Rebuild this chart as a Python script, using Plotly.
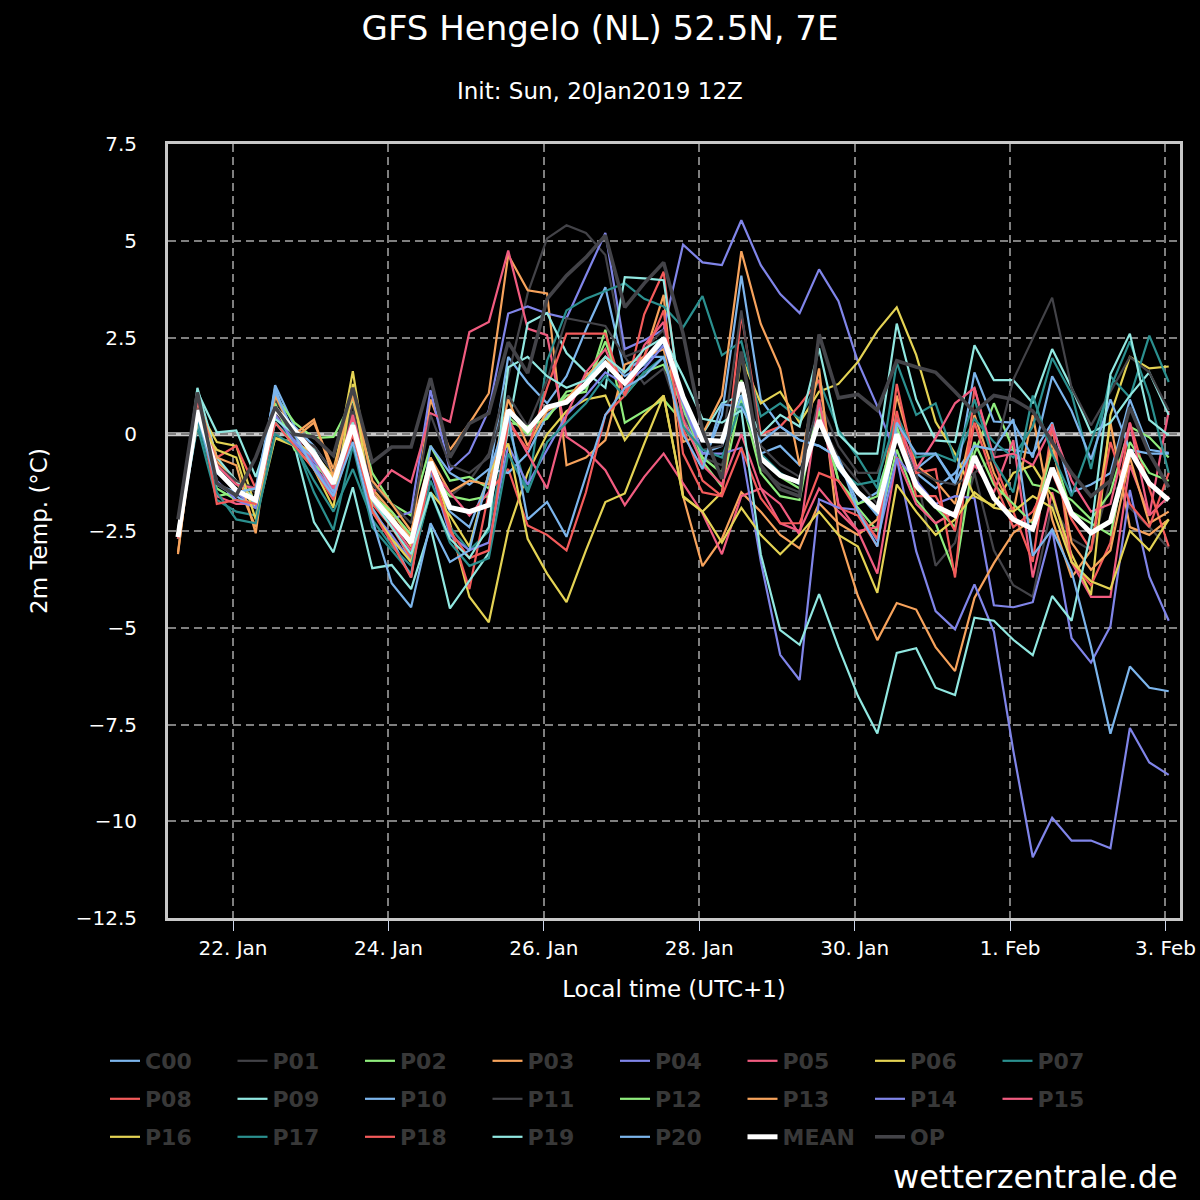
import pandas as pd
import plotly.graph_objects as go

# ---- data -----------------------------------------------------------------
times = pd.date_range("2019-01-21 07:00", periods=52, freq="6h")

C00 = [-2.6, 0.6, -1.3, -1.6, -1.9, 1.27, 0.2, -0.3, -1.0, 0.9, -1.6, -2.3, -3.3,
       -1.0, -2.0, -2.4, -1.1, 2.0, 1.33, 0.8, 1.5, 2.7, 3.8, 1.6, 2.0, 2.0,
       0.6, -0.8, 0.5, 4.1, 0.9, 0.2, -0.15, -0.3, -0.6, -1.8, -1.5, 0.1, -1.0,
       -1.4, -1.0, -0.3, -0.4, -0.4, -0.5, 0.3, -1.5, -1.3, -1.0, 0.9, -0.4, -0.48]
P01 = [-2.6, 0.9, -1.0, -1.3, -1.5, 0.9, 0.1, -0.4, -1.2, 0.8, -1.4, -2.0, -2.6,
       -1.0, -1.6, -1.2, -0.5, 1.5, 3.64, 5.06, 5.4, 5.2, 4.63, 2.0, 1.3, 1.7,
       0.2, -0.6, -0.8, 1.0, -0.9, -1.3, -1.5, 0.4, -0.6, -1.2, -1.8, 0.2, -1.0,
       -3.4, -2.8, -1.0, -3.0, -3.9, -4.2, -1.8, -2.7, -3.0, -1.2, -1.9, -2.4, -2.95]
P02 = [-2.6, 0.8, -1.6, -1.5, -1.4, 1.0, 0.3, -0.1, -0.07, 0.9, -1.0, -1.8, -2.1,
       -0.3, -1.2, -1.1, -1.4, 0.45, 0.0, 0.45, 1.0, 1.1, 2.7, 0.3, 0.6, 0.9,
       0.3, -0.7, -1.35, 0.95, -1.0, -1.6, -1.7, 0.9, -1.2, -1.9, -2.5, -0.4, -1.7,
       -2.3, -3.6, -0.5, 0.8, -0.4, -1.3, -1.4, -1.7, -2.2, -1.5, 0.2, -0.08, -0.6]
P03 = [-3.05, 0.8, -0.7, -1.2, -2.4, 1.1, -0.1, 0.3, -0.9, 1.0, -1.4, -2.0, -2.7,
       0.9, -0.4, 0.28, 1.06, 4.63, 3.72, 3.64, -0.8, -0.6, -0.15, 1.8, 2.0, 3.6,
       -1.6, -3.41, -2.7, -1.5, -2.0, -2.6, -2.95, -1.78, -2.3, -2.6, -2.2, 1.0, -0.8,
       -1.2, -1.8, 0.5, -1.0, -2.0, 0.5, -2.2, -3.7, -3.0, 0.3, -2.4, -2.6, -2.2]
P04 = [-2.6, 1.0, -0.9, -1.5, -1.9, 0.6, -0.1, -0.7, -1.3, 0.3, -1.8, -2.2, -2.0,
       1.14, -0.93, -0.47, 0.62, 3.12, 3.3, 3.12, 3.0, 4.1, 5.2, 2.2, 2.43, 2.7,
       4.9, 4.44, 4.37, 5.53, 4.37, 3.62, 3.13, 4.26, 3.44, 1.87, 0.72, -0.6, -1.2,
       -1.8, -1.6, -1.65, -4.42, -4.47, -4.34, -2.45, -5.27, -5.9, -4.96, -1.44, -3.68, -4.82]
P05 = [-2.7, 0.9, -1.6, -1.8, -1.8, 0.5, 0.0, -0.8, -1.5, 0.4, -1.53, -0.93, -1.24,
       0.54, 0.32, 2.64, 2.9, 4.75, 2.73, 2.56, -0.07, -0.41, -0.93, -1.83, -1.1, -0.5,
       -1.27, -2.04, -3.1, -1.6, -1.4, -2.3, -2.5, -1.4, -2.0, -2.5, -3.6, -0.6, -1.8,
       -2.3, -2.0, -0.8, -1.5, -0.15, -3.7, -1.5, -3.3, -4.2, -4.2, -0.8, -2.1, 0.6]
P06 = [-2.6, 0.7, -0.2, -0.3, -1.9, -0.1, -0.2, -0.5, -1.1, 1.63, -1.5, -2.1, -2.9,
       -0.6, -2.3, -4.2, -4.86, -2.48, -1.0, 0.0, 0.6, 0.9, 1.0, -0.15, 0.5, 1.0,
       -1.6, -2.0, -1.5, 2.0, 0.8, 1.1, 0.3, 1.1, 1.3, 1.87, 2.67, 3.28, 2.05,
       0.32, -0.5, -1.6, -1.85, -1.0, -0.8, -1.6, -3.1, -4.15, 0.5, 2.0, 1.7, 1.75]
P07 = [-2.6, 0.2, -1.7, -2.0, -2.1, 0.3, -0.2, -1.5, -2.48, -0.3, -2.4, -3.0, -3.6,
       -1.2, -2.4, -3.0, -2.5, 0.2, -1.5, 1.9, 3.2, 3.5, 3.7, 3.9, 3.5, 3.3,
       2.76, 3.57, 2.04, 2.4, 0.46, 0.8, 0.4, 1.4, 0.1, -0.6, -1.4, 1.85, 0.5,
       0.8, -0.67, 0.4, -0.2, -0.6, 0.2, 1.97, 1.05, -0.9, 1.5, 0.95, 2.55, 1.35]
P08 = [-2.6, 1.1, -0.6, -0.3, -1.4, 0.6, 0.1, -0.4, -1.4, 0.5, -1.8, -2.4, -3.2,
       -0.9, -2.4, -4.0, -1.5, -0.9, -2.36, -2.6, -3.0, -1.5, 0.5, 1.0, 3.1, 4.2,
       0.15, -1.2, -1.6, 3.1, 0.0, 0.2, 0.75, 1.4, -1.9, -2.1, -2.9, 1.3, -1.0,
       -0.9, -3.7, 1.2, -0.7, -2.0, -3.3, 0.26, -3.3, -3.9, -2.8, 0.3, -1.4, -2.9]
P09 = [-2.6, 1.2, -0.6, -1.2, -1.7, 0.3, -0.3, -2.27, -3.05, -1.37, -3.46, -3.38, -4.0,
       -2.4, -4.5, -3.77, -3.07, 0.18, 2.87, 3.13, 2.1, 1.6, 1.2, 4.06, 4.03, 3.98,
       0.5, 0.0, 0.8, 1.0, 0.0, 0.5, 0.2, 2.22, 0.0, -0.5, -0.5, 2.86, 0.9,
       -0.16, -0.2, 2.3, 1.4, 1.4, 0.8, 2.2, 1.2, 0.04, 0.3, 1.0, 1.6, 0.5]
P10 = [-2.7, 0.3, -1.0, -1.4, -1.8, 1.2, -0.2, -0.6, -1.5, 0.1, -1.9, -2.7, -3.7,
       -0.3, -1.0, -1.3, -0.9, -1.0, -0.5, 0.5, 0.9, 1.2, 2.0, 1.5, 1.8, 2.4,
       1.0, -0.5, -0.3, 1.0, -0.5, -0.3, -0.8, 0.7, -0.9, -1.5, -2.1, 0.2, -0.9,
       -0.5, -1.3, 1.6, 0.33, 0.3, -0.6, 1.5, 0.6, -0.65, 0.9, -0.4, -0.5, -0.5]
P11 = [-2.7, 0.7, -0.8, -1.2, -1.4, 0.6, -0.1, -0.3, -1.0, 0.6, -1.3, -1.8, -2.3,
       0.5, -0.8, -1.0, -0.6, 1.0, 0.2, 1.4, 3.0, 2.9, 2.8, 2.0, 2.2, 2.7,
       0.5, -0.4, -0.3, 3.2, -0.3, -0.8, -1.1, 0.9, -0.3, -1.0, -1.0, 0.3, -0.9,
       -1.2, -1.3, -1.0, -0.6, 1.41, 2.45, 3.53, 1.2, 0.23, 1.1, 2.0, 1.6, 0.62]
P12 = [-2.7, 0.6, -1.4, -1.7, -1.8, 0.8, -0.4, -0.8, -1.2, 0.3, -1.6, -2.0, -2.6,
       -1.0, -1.6, -1.7, -1.6, 0.3, 0.2, 0.4, 1.1, 1.2, 2.4, 1.0, 1.6, 1.8,
       0.7, -0.6, -1.0, 1.4, -0.6, -1.1, -1.4, 0.6, -1.2, -1.8, -1.6, 0.2, -1.4,
       -1.9, -2.4, -0.2, -1.3, -1.8, -2.3, -0.4, -2.0, -2.3, -2.6, -0.2, -1.0, -1.2]
P13 = [-3.1, 0.9, -0.6, -0.8, -2.56, 1.0, 0.0, 0.38, -1.1, 1.2, -1.2, -1.8, -2.5,
       -0.6, -1.5, -1.2, -1.3, 0.9, -0.3, 0.6, 0.9, 1.5, 2.0, 1.3, 2.0, 2.2,
       -0.2, 0.0, 1.0, 4.73, 2.85, 1.7, -0.8, 1.7, -2.58, -4.18, -5.32, -4.36, -4.53,
       -5.5, -6.12, -4.23, -3.33, -2.55, -2.2, -0.2, -2.8, -3.5, -3.0, -0.6, -2.3, -2.0]
P14 = [-2.7, 1.0, -1.2, -1.7, -1.9, 0.5, -0.2, -0.8, -1.6, 0.1, -2.0, -2.6, -3.3,
       -0.9, -2.6, -3.0, -2.8, -0.3, -1.3, -0.4, 0.5, 1.0, 1.6, 1.3, 1.7, 2.3,
       0.8, -0.5, -0.5, -0.35, -3.28, -5.7, -6.35, -1.68, -1.9, -1.95, -2.75, -0.62, -3.02,
       -4.57, -5.04, -3.88, -5.1, -8.18, -10.93, -9.91, -10.5, -10.5, -10.7, -7.59, -8.48, -8.8]
P15 = [-2.6, 0.9, -0.8, -1.3, -1.4, 0.7, 0.1, -0.6, -1.4, 0.5, -1.5, -2.3, -3.0,
       -0.9, -1.5, -2.1, -1.5, 0.4, -0.5, -1.4, 0.5, 1.6, 2.2, 1.0, 2.3, 2.9,
       0.4, -0.8, -1.3, 0.0, -1.4, -1.8, -2.6, 0.9, -1.8, -2.5, -2.4, 0.4, -0.9,
       -0.1, 0.8, 1.2, -0.6, -0.5, -0.8, 0.2, -1.2, -2.0, -1.8, 0.3, -2.1, -1.6]
P16 = [-2.5, 0.3, -0.4, -0.6, -2.2, -0.1, -0.3, -0.9, -1.9, 1.3, -2.0, -2.7, -3.3,
       -1.5, -2.1, -2.9, -1.0, -0.24, -2.7, -3.6, -4.34, -3.0, -1.75, -1.53, -0.24, 1.0,
       -1.62, -2.0, -2.8, -1.9, -2.6, -3.1, -2.6, -2.0, -2.6, -2.9, -4.1, -1.3, -2.0,
       -2.6, -2.2, -1.5, -1.9, -2.0, -1.6, -1.9, -3.3, -3.8, -4.0, -2.5, -3.0, -2.2]
P17 = [-2.7, 0.4, -1.5, -2.2, -2.3, 0.0, -0.3, -1.2, -2.0, -0.9, -2.2, -2.9, -3.4,
       -1.5, -2.8, -3.4, -3.2, -0.5, -1.5, -0.2, 0.3, 0.8, 1.5, 1.0, 1.6, 2.0,
       0.2, -0.4, -0.6, 0.8, -0.5, -1.0, -1.3, 0.3, -0.9, -1.3, -1.2, 0.5, -0.6,
       -0.5, -0.7, 0.9, -0.7, -1.5, 1.0, -0.5, -1.6, -0.2, 1.2, 2.4, 1.0, -1.0]
P18 = [-2.7, 1.0, -1.8, -1.7, -1.8, 0.3, -0.3, -0.9, -1.7, 0.0, -2.0, -2.8, -3.7,
       -0.8, -2.5, -3.2, -3.0, 0.3, -0.4, 1.2, 2.6, 2.6, 2.6, 1.0, 2.0, 3.2,
       -0.5, -1.5, -1.6, -0.35, -1.65, -2.3, -2.3, -1.0, -1.2, -2.0, -2.7, 0.6, -1.6,
       -1.6, -2.5, 0.3, -1.2, -2.4, -2.0, -1.0, -2.2, -3.0, -0.2, -1.8, -2.4, -1.0]
P19 = [-2.5, 1.1, 0.05, 0.1, -1.1, 0.4, 0.0, -0.4, -1.3, 0.3, -1.7, -2.4, -3.1,
       -1.5, -2.7, -3.2, -2.4, 1.73, 2.0, 1.5, 1.2, 1.4, 2.0, 1.6, 2.2, 2.5,
       1.5, 0.4, 0.3, 0.62, -3.1, -5.06, -5.44, -4.13, -5.5, -6.76, -7.73, -5.65, -5.53,
       -6.55, -6.74, -4.74, -4.82, -5.31, -5.71, -4.18, -4.82, -2.5, 1.55, 2.6, 0.37, -0.03]
P20 = [-2.6, 0.5, -1.3, -1.5, -1.4, 1.1, 0.0, -0.9, -1.6, -0.2, -2.2, -3.85, -4.47,
       -2.3, -3.3, -3.0, -1.0, 0.5, -2.2, -1.75, -2.65, -1.1, 0.5, 1.2, 1.5, 2.0,
       0.0, -0.9, 0.78, 0.7, -0.2, 0.2, -0.15, -0.3, -0.6, -2.0, -2.9, 0.3, -0.5,
       -0.5, -1.25, -0.3, -0.4, 0.39, -3.14, -2.46, -3.54, -5.5, -7.74, -6.0, -6.55, -6.64]
MEAN = [-2.66, 0.62, -0.93, -1.45, -1.7, 0.67, 0.1, -0.5, -1.27, 0.23, -1.62, -2.2, -2.8,
        -0.72, -1.89, -2.0, -1.83, 0.62, 0.1, 0.7, 0.83, 1.3, 1.83, 1.32, 1.9, 2.48,
        0.96, -0.15, -0.18, 1.34, -0.62, -1.06, -1.24, 0.36, -0.8, -1.5, -1.96, 0.0, -1.32,
        -1.86, -2.1, -0.57, -1.65, -2.2, -2.45, -0.87, -2.05, -2.55, -2.25, -0.41, -1.27, -1.7]
OP = [-2.2, 1.08, -1.27, -1.58, -0.6, 0.7, 0.0, -0.07, -0.55, 1.2, -0.72, -0.33, -0.33,
      1.45, -0.6, 0.28, 0.54, 2.38, 1.58, 3.5, 4.1, 4.57, 5.14, 3.28, 3.9, 4.44,
      2.6, 0.1, -1.15, 2.14, -0.8, -1.42, -1.6, 2.58, 0.94, 1.03, 0.62, 1.9, 1.74,
      1.6, 1.1, 0.57, 1.0, 0.9, 0.6, -0.2, -1.0, -1.6, -1.2, 0.7, -0.5, -1.37]

names = ["C00", "P01", "P02", "P03", "P04", "P05", "P06", "P07", "P08", "P09", "P10",
         "P11", "P12", "P13", "P14", "P15", "P16", "P17", "P18", "P19", "P20", "MEAN", "OP"]
series = [C00, P01, P02, P03, P04, P05, P06, P07, P08, P09, P10,
          P11, P12, P13, P14, P15, P16, P17, P18, P19, P20, MEAN, OP]

palette = ["#7cb5ec", "#434348", "#90ed7d", "#f7a35c", "#8085e9",
           "#f15c80", "#e4d354", "#2b908f", "#f45b5b", "#91e8e1"]
colors = [palette[i % 10] for i in range(21)] + ["#ffffff", "#434348"]
widths = [2.2] * 21 + [5, 3.6]

y_ticks = [7.5, 5, 2.5, 0, -2.5, -5, -7.5, -10, -12.5]
y_ticktext = ["7.5", "5", "2.5", "0", "−2.5", "−5", "−7.5", "−10", "−12.5"]
x_ticks = ["2019-01-22", "2019-01-24", "2019-01-26", "2019-01-28",
           "2019-01-30", "2019-02-01", "2019-02-03"]
x_ticktext = ["22. Jan", "24. Jan", "26. Jan", "28. Jan", "30. Jan", "1. Feb", "3. Feb"]

# ---- figure ---------------------------------------------------------------
FONT = "DejaVu Sans"
fig = go.Figure()
legend_ids = ["legend"] * 8 + ["legend2"] * 8 + ["legend3"] * 7
for i, (nm, vals) in enumerate(zip(names, series)):
    fig.add_trace(go.Scatter(
        x=times, y=vals, name=nm, mode="lines",
        line=dict(color=colors[i], width=widths[i]),
        legend=legend_ids[i], hoverinfo="x+y+name",
    ))

grid_dash = "8px,5px"
PW = 1180 - 168
LX = (105 - 168) / PW


def leg(y):
    return dict(orientation="h", x=LX, xanchor="left", y=y, yanchor="middle",
                entrywidth=82.5, entrywidthmode="pixels", bgcolor="rgba(0,0,0,0)",
                font=dict(family=FONT, size=22, color="#383838", weight="bold"),
                itemwidth=30, tracegroupgap=0)


def py(px):  # pixel row -> paper y
    return (918 - px) / 774


fig.update_layout(
    width=1200, height=1200, autosize=False,
    margin=dict(l=168, r=20, t=144, b=282, pad=0, autoexpand=False),
    paper_bgcolor="#000000", plot_bgcolor="#000000",
    font=dict(family=FONT, color="#ffffff"),
    title=dict(text="GFS Hengelo (NL) 52.5N, 7E", x=0.5, xref="container", xanchor="center",
               y=1 - 28 / 1200, yref="container", yanchor="middle",
               font=dict(family=FONT, size=34, color="#ffffff")),
    legend=leg(py(1061)), legend2=leg(py(1099)), legend3=leg(py(1137)),
    showlegend=True,
    xaxis=dict(type="date", range=["2019-01-21 03:55", "2019-02-03 04:29"],
               tickvals=x_ticks, ticktext=x_ticktext, automargin=False,
               tickfont=dict(family=FONT, size=20, color="#ffffff"),
               ticks="outside", ticklen=10, tickwidth=1, tickcolor="#ccd6eb",
               showgrid=True, gridcolor="#7f7f7f", gridwidth=1.5, griddash=grid_dash,
               showline=True, mirror=True, linecolor="#c8c8c8", linewidth=3,
               zeroline=False,
               title=dict(text="Local time (UTC+1)", standoff=22,
                          font=dict(family=FONT, size=23, color="#ffffff"))),
    yaxis=dict(range=[-12.5, 7.5], tickvals=y_ticks, ticktext=y_ticktext, automargin=False,
               tickfont=dict(family=FONT, size=20, color="#ffffff"),
               ticks="outside", ticklen=24, tickcolor="rgba(0,0,0,0)",
               showgrid=True, gridcolor="#7f7f7f", gridwidth=1.5, griddash=grid_dash,
               showline=True, mirror=True, linecolor="#c8c8c8", linewidth=3,
               zeroline=False,
               title=dict(text="2m Temp. (°C)", standoff=22,
                          font=dict(family=FONT, size=23, color="#ffffff"))),
    shapes=[dict(type="line", xref="paper", yref="y", x0=0, x1=1, y0=0, y1=0,
                 line=dict(color="#c8c8c8", width=4), layer="below")],
    annotations=[
        dict(text="Init: Sun, 20Jan2019 12Z", xref="paper", yref="paper",
             x=(600 - 168) / PW, y=py(91), xanchor="center", yanchor="middle",
             showarrow=False, font=dict(family=FONT, size=23, color="#ffffff")),
        dict(text="wetterzentrale.de", xref="paper", yref="paper",
             x=(1180 - 168) / PW, y=py(1177), xanchor="right", yanchor="middle",
             showarrow=False, font=dict(family=FONT, size=32, color="#ffffff")),
    ],
)

fig.write_html("out.html", config={"displayModeBar": False},
               post_script="document.body.style.margin='0';")
